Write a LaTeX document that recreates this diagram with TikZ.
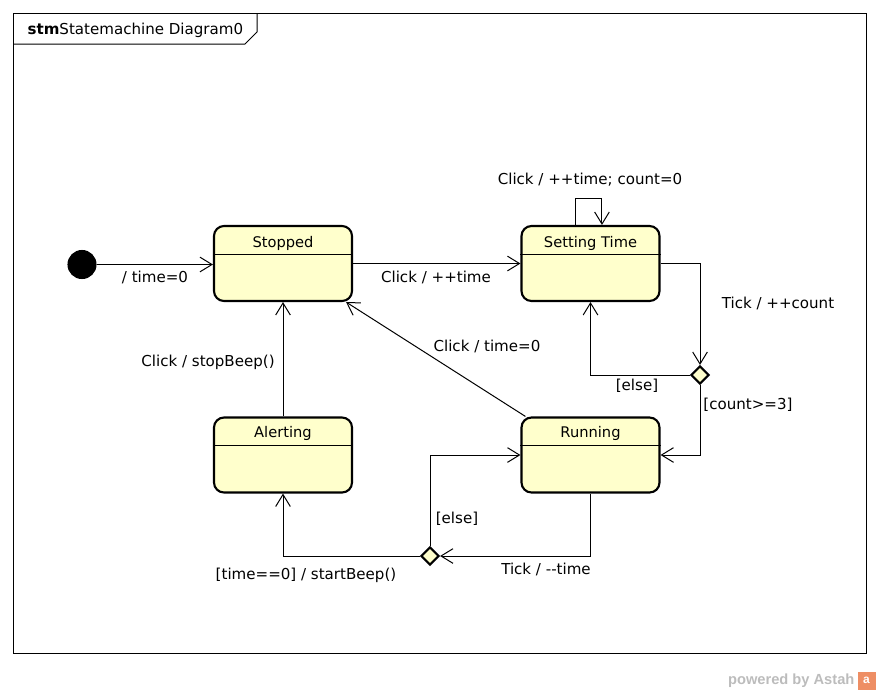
\documentclass[tikz,border=0pt]{standalone}
\usepackage{fontspec}
\setmainfont{DejaVu Sans}
\newfontfamily\footerfont{Liberation Sans}
\usepackage{xcolor}
\usetikzlibrary{shapes.geometric}
\usetikzlibrary{arrows.meta}
\definecolor{stateyellow}{RGB}{255,255,204}
\definecolor{astahgray}{RGB}{188,188,188}
\definecolor{astahorange}{RGB}{238,142,100}
\tikzset{
statebox/.style={rectangle, draw=black!100,fill=stateyellow,line width=1.6pt,rounded corners=7.5pt, inner sep=0pt, minimum width= 103.5pt, minimum height= 56.25pt},
statename/.style={inner sep=0pt, font=\fontsize{11}{13}\selectfont},
initialnode/.style={circle, draw=black!100,fill=black!100,thick, inner sep=0pt, minimum size= 21pt},
choicenode/.style={diamond, draw=black!100,fill=stateyellow,line width=1.6pt, inner sep=0pt, minimum size= 13.5pt},
translabel/.style={inner sep=1pt, font=\fontsize{11.3}{13}\selectfont},
trans/.style={draw=black, line width=0.75pt, -{Straight Barb[length=9pt,width=11pt]}},
framebox/.style={draw=black, line width=0.75pt},
}
\begin{document}
\begin{tikzpicture}[x=0.75pt,y=-0.75pt]
        \useasboundingbox (0,0) rectangle (880,693);
        % frame and its tab
        \draw[framebox] (13,13) rectangle (866,653);
        \draw[framebox] (13,44) -- (245,44) -- (257,32) -- (257,13);
        \node[translabel,anchor=west] at (26,30) (title) {\textbf{stm}Statemachine Diagram0};
        % states
        \node[initialnode] at (82,264.5) (init) {};
        \node[statebox] at (283,263.5) (stopped) {};
        \node[statebox] at (590.5,263.5) (settime) {};
        \node[statebox] at (283,455) (alerting) {};
        \node[statebox] at (590.5,455) (running) {};
        \node[statename] at (283,243) (stoppedname) {Stopped};
        \node[statename] at (590.5,243) (settimename) {Setting Time};
        \node[statename] at (283,433) (alertingname) {Alerting};
        \node[statename] at (590.5,433) (runningname) {Running};
        \draw[line width=0.75pt] ([yshift=-22.5pt]stopped.north west) -- ([yshift=-22.5pt]stopped.north east);
        \draw[line width=0.75pt] ([yshift=-22.5pt]settime.north west) -- ([yshift=-22.5pt]settime.north east);
        \draw[line width=0.75pt] ([yshift=-22pt]alerting.north west) -- ([yshift=-22pt]alerting.north east);
        \draw[line width=0.75pt] ([yshift=-22pt]running.north west) -- ([yshift=-22pt]running.north east);
        % choice points
        \node[choicenode] at (700,375) (choicea) {};
        \node[choicenode] at (430,556) (choiceb) {};
        % transitions
        \draw[trans] (init) -- (init -| stopped.west);
        \draw[trans] (stopped.east) -- (settime.west);
        \draw[trans] ([xshift=-10.9pt]settime.north) -- ++(0,-26) -| ([xshift=8.6pt]settime.north);
        \draw[trans] (settime.east) -| (choicea.north);
        \draw[trans] (choicea.west) -| (settime.south);
        \draw[trans] (choicea.south) |- (running.east);
        \draw[trans] ([xshift=3.75pt]running.north west) -- ([xshift=-5.25pt]stopped.south east);
        \draw[trans] (running.south) |- (choiceb.east);
        \draw[trans] (choiceb.north) |- (running.west);
        \draw[trans] (choiceb.west) -| (alerting.south);
        \draw[trans] (alerting.north) -- (stopped.south);
        % transition labels
        \node[translabel] at (155,277) (linit) {/ time=0};
        \node[translabel] at (436,277) (lclicka) {Click / ++time};
        \node[translabel] at (590,180) (lclickb) {Click / ++time; count=0};
        \node[translabel] at (778,303) (ltickcount) {Tick / ++count};
        \node[translabel] at (637,386) (lelsea) {[else]};
        \node[translabel] at (748,405) (lcount) {[count>=3]};
        \node[translabel] at (487,346) (lclickc) {Click / time=0};
        \node[translabel] at (208,362) (lclickd) {Click / stopBeep()};
        \node[translabel] at (457,519) (lelseb) {[else]};
        \node[translabel] at (546,569) (ltick) {Tick / -{}-time};
        \node[translabel] at (306,575) (ltime) {[time==0] / startBeep()};
        % footer
        \node[translabel,anchor=east,text=astahgray,font=\footerfont\fontsize{11}{12}\selectfont\bfseries] at (856,680.5) (powered) {powered by Astah};
        \node[fill=astahorange,inner sep=0pt,minimum size=13.5pt,text=white,font=\footerfont\fontsize{9}{10}\selectfont\bfseries] at (866.5,680.5) (logo) {a};
\end{tikzpicture}
\end{document}
